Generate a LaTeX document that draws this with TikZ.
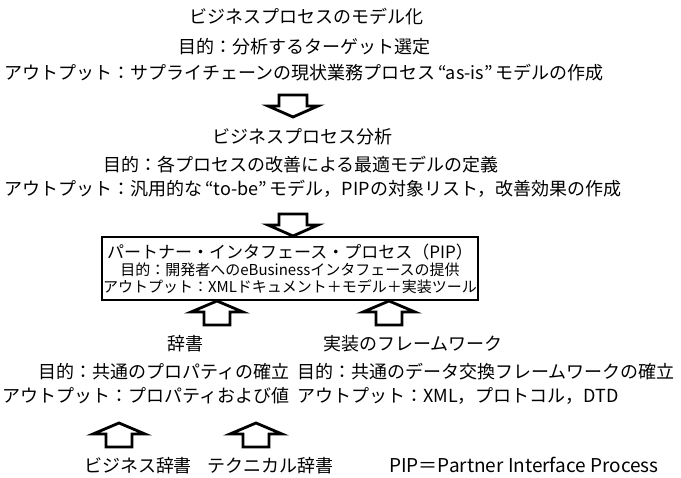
\documentclass[tikz,border=0pt]{standalone}
\usepackage{fontspec}
\setmainfont{Noto Sans CJK JP}
\begin{document}
\begin{tikzpicture}[x=1pt,y=-1pt,
  txt/.style={inner sep=0pt, font=\fontsize{18}{20}\selectfont},
  ttl/.style={inner sep=0pt, font=\fontsize{18}{20}\selectfont},
  boxtxt/.style={inner sep=0pt, font=\fontsize{15}{17}\selectfont},
  blk/.style={line width=2.8pt, fill=white, line join=miter},
  pipbox/.style={draw, line width=2.8pt, minimum width=376pt, minimum height=63pt, inner sep=0pt},
  blkdown/.pic={\draw[blk] (-14,-22) -- (14,-22) -- (14,-11) -- (25,-11) -- (0,0) -- (-25,-11) -- (-14,-11) -- cycle;},
  blkup/.pic={\draw[blk] (-13,24) -- (13,24) -- (13,11) -- (26,11) -- (0,0) -- (-26,11) -- (-13,11) -- cycle;}
]
\useasboundingbox[fill=white] (0,0) rectangle (681,478);

\node[ttl, anchor=base] (t1) at (306,23.5) {ビジネスプロセスのモデル化};
\node[txt, anchor=base] (p1) at (304,54) {目的：分析するターゲット選定};
\node[txt, anchor=base west] (o1) at (4,80) {アウトプット：サプライチェーンの現状業務プロセス\hspace{3pt}“as-is”\hspace{3pt}モデルの作成};

\pic (a1) at (293,117) {blkdown};

\node[ttl, anchor=base] (t2) at (302,143.5) {ビジネスプロセス分析};
\node[txt, anchor=base] (p2) at (301,172) {目的：各プロセスの改善による最適モデルの定義};
\node[txt, anchor=base west] (o2) at (4,196) {アウトプット：汎用的な\hspace{3pt}“to-be”\hspace{3pt}モデル，PIPの対象リスト，改善効果の作成};

\pic (a2) at (293,236) {blkdown};

\node[pipbox] (box) at (290,268.5) {};
\node[boxtxt, font=\fontsize{17}{19}\selectfont, anchor=base] (b1) at (290,259) {パートナー・インタフェース・プロセス（PIP）};
\node[boxtxt, anchor=base] (b2) at (290,276) {目的：開発者へのeBusinessインタフェースの提供};
\node[boxtxt, anchor=base] (b3) at (290,293) {アウトプット：XMLドキュメント＋モデル＋実装ツール};

\pic (a3) at (217,301) {blkup};
\pic (a4) at (389,301) {blkup};

\node[ttl, anchor=base] (d1) at (185,350.5) {辞書};
\node[ttl, anchor=base] (d2) at (413,350.5) {実装のフレームワーク};
\node[txt, anchor=base east] (p3) at (290,379) {目的：共通のプロパティの確立};
\node[txt, anchor=base west] (p4) at (297,379) {目的：共通のデータ交換フレームワークの確立};
\node[txt, anchor=base east] (o3) at (290,403) {アウトプット：プロパティおよび値};
\node[txt, anchor=base west] (o4) at (297,403) {アウトプット：XML，プロトコル，DTD};

\pic (a5) at (119,423) {blkup};
\pic (a6) at (256,423) {blkup};

\node[ttl, anchor=base] (l1) at (138,472.5) {ビジネス辞書};
\node[ttl, anchor=base] (l2) at (270,472.5) {テクニカル辞書};
\node[ttl, font=\fontsize{19}{21}\selectfont, anchor=base] (l3) at (524,472.5) {PIP＝Partner Interface Process};
\end{tikzpicture}
\end{document}
